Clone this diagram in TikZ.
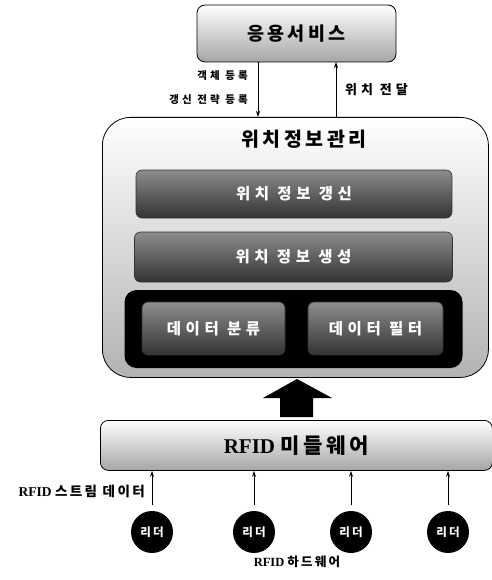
\documentclass[tikz,border=0pt]{standalone}
\usepackage{fontspec}
\setmainfont{Liberation Serif}
\newfontfamily\kr{Noto Sans CJK KR}[LetterSpace=10]
\newfontfamily\krs{Noto Sans CJK KR}[LetterSpace=18]
\newfontfamily\krw{Noto Sans CJK KR}[LetterSpace=30]
\usetikzlibrary{arrows.meta}
\tikzset{
  lightbox/.style={draw=black, line width=0.8pt, rounded corners=8pt, top color=white, bottom color=black!35},
  darkbar/.style={draw=black!80, line width=0.6pt, rounded corners=6pt, top color=black!45, bottom color=black!80, text=white},
  container/.style={draw=black, line width=0.8pt, rounded corners=28pt, top color=white, bottom color=black!30},
  blackbox/.style={fill=black, rounded corners=12pt},
  reader/.style={circle, fill=black, minimum size=42pt, inner sep=0pt, text=white, font=\krs\bfseries\fontsize{11.5}{13}\selectfont},
  thin/.style={-{Stealth[length=6pt,width=4pt]}, line width=0.9pt},
  lbl/.style={font=\krw\bfseries\fontsize{10.5}{12}\selectfont, inner sep=1pt},
  bartext/.style={font=\krw\bfseries\fontsize{15.5}{18}\selectfont},
}
\begin{document}
\begin{tikzpicture}[x=1pt,y=-1pt]
\useasboundingbox (0,0) rectangle (491,580);
% top box
\node[lightbox, minimum width=199pt, minimum height=57pt, font=\krs\bfseries\fontsize{18.5}{22}\selectfont] (app) at (296.5,33.5) {응용서비스};
% container
\node[container, minimum width=386pt, minimum height=260pt, anchor=north west] (mgmt) at (102,117) {};
\node[font=\krs\bfseries\fontsize{19.5}{23}\selectfont] (mtitle) at (304,139) {위치정보관리};
\node[darkbar, bartext, minimum width=316pt, minimum height=48pt] (upd) at (294,194) {위치 정보 갱신};
\node[darkbar, bartext, minimum width=318pt, minimum height=50pt] (gen) at (293.5,257) {위치 정보 생성};
\node[blackbox, minimum width=338pt, minimum height=78pt] (blk) at (293.5,329) {};
\node[darkbar, bartext, minimum width=143pt, minimum height=53pt] (cls) at (213.5,328.5) {데이터 분류};
\node[darkbar, bartext, minimum width=135pt, minimum height=53pt] (flt) at (375.5,328.5) {데이터 필터};
% arrows between app and mgmt
\coordinate (d1) at (258,62);
\coordinate (d2) at (258,117);
\coordinate (u1) at (336,117);
\coordinate (u2) at (336,62);
\draw[thin] (d1) -- (d2);
\draw[thin] (u1) -- (u2);
\node[lbl, anchor=east] (l1) at (249,76) {객체 등록};
\node[lbl, anchor=east] (l2) at (249,100) {갱신 전략 등록};
\node[lbl, anchor=west, font=\krw\bfseries\fontsize{13}{15}\selectfont] (l3) at (344,90) {위치 전달};
% big arrow
\path[fill=black] (280,417) -- (280,398) -- (263,398) -- (297,379) -- (332,398) -- (313,398) -- (313,417) -- cycle;
% middleware
\node[lightbox, minimum width=392pt, minimum height=50pt, anchor=north west, font=\bfseries\fontsize{21}{25}\selectfont] (mw) at (100,420) {RFID {\krs 미들웨어}};
% readers
\foreach \i/\x in {1/152,2/254,3/351,4/448} {
  \node[reader] (r\i) at (\x,532) {리더};
  \draw[thin] ([yshift=6pt]r\i.north) -- (r\i.north |- mw.south);
}
\node[anchor=east, inner sep=1pt, font=\bfseries\fontsize{13.5}{16}\selectfont] (stream) at (146,491) {RFID {\krs 스트림 데이터}};
\node[font=\fontsize{12.5}{15}\selectfont\bfseries] (hw) at (297,562) {RFID {\krs 하드웨어}};
\end{tikzpicture}
\end{document}
